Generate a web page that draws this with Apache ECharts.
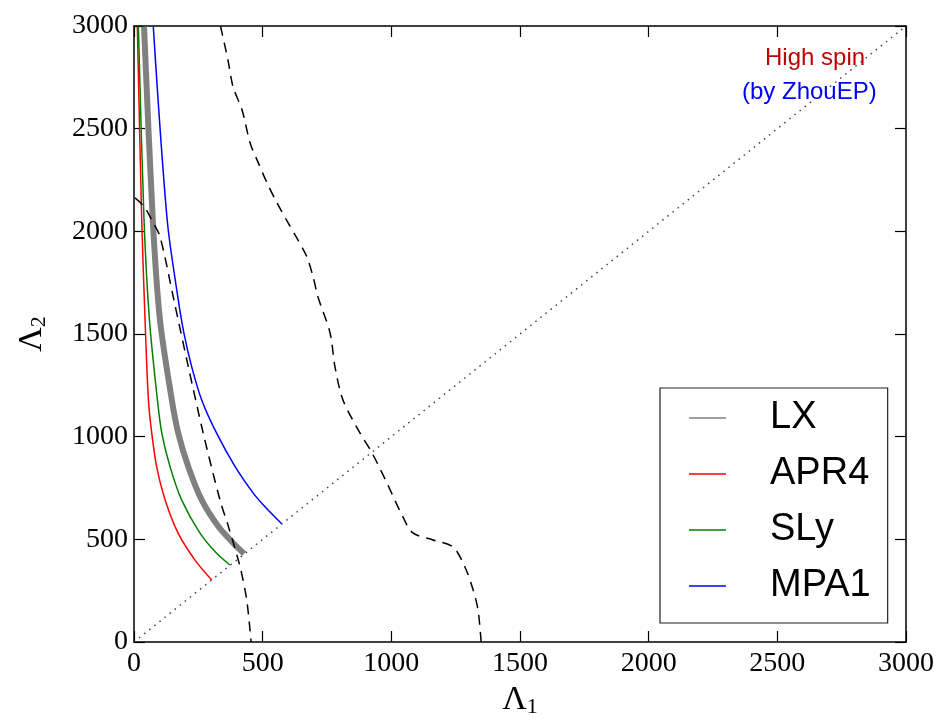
<!DOCTYPE html>
<html>
<head>
<meta charset="utf-8">
<script src="https://cdn.jsdelivr.net/npm/echarts@6/dist/echarts.min.js"></script>
<style>
  html, body { margin:0; padding:0; background:#fff; }
  #chart { width:941px; height:719px; }
</style>
</head>
<body>
<div id="chart"></div>
<script>
// tick labels
var ticks = [0, 500, 1000, 1500, 2000, 2500, 3000];

// [Lambda1, Lambda2]
var lx   = [[39,2997],[73,2055],[101,1568],[147,1179],[172,1017],[211,854],[263,692],[328,562],[386,481],[428,430]];
var apr4 = [[13,2997],[30,2055],[43,1568],[56,1179],[69,1017],[88,854],[121,692],[172,529],[237,399],[302,302]];
var sly  = [[17,2997],[39,2055],[60,1568],[91,1179],[108,1017],[140,854],[185,692],[257,529],[321,432],[373,375]];
var mpa1 = [[75,2997],[129,2055],[172,1666],[194,1504],[224,1341],[263,1179],[321,1017],[393,854],[464,724],[509,659],[574,576]];

var dashLeft  = [[4,2163],[40,2120],[69,2055],[101,1974],[155,1666],[211,1341],[269,1017],[334,692],[367,562],[412,367],[438,205],[455,0]];
var dashRight = [[336,3000],[365,2835],[385,2703],[420,2591],[451,2431],[478,2348],[517,2236],[556,2138],[599,2041],
                 [637,1958],[672,1875],[696,1778],[715,1680],[762,1505],[781,1340],[812,1179],[878,1018],[925,921],
                 [983,774],[1045,609],[1084,531],[1162,497],[1240,463],[1286,365],[1318,253],[1337,156],[1349,0]];
var diagonal = [[0,0],[3000,3000]];

(function() {
  var serif = '"Liberation Serif", "DejaVu Serif", serif';
  var sans = '"Liberation Sans", Arial, sans-serif';
  var axisCommon = {
    type:'value', min:0, max:3000, interval:500,
    axisLine:{onZero:false, lineStyle:{color:'#000', width:1.5}},
    axisTick:{inside:true, length:11, lineStyle:{color:'#000', width:1.2}},
    splitLine:{show:false}
  };
  var nameRich = {rich:{a:{fontFamily:serif, fontSize:34, color:'#000'},
                        s:{fontFamily:serif, fontSize:22, color:'#000', padding:[14,0,0,0]}}};
  function line(name, data, color, width, type, smooth) {
    return {name:name, type:'line', data:data, symbol:'none', smooth:smooth,
      lineStyle:{color:color, width:width, type:type}, itemStyle:{color:color},
      z: 2, silent:true};
  }
  var chart = echarts.init(document.getElementById('chart'), null, {renderer:'canvas'});
  chart.setOption({
    animation:false,
    backgroundColor:'#fff',
    grid:{left:134, right:35, top:26, bottom:77, outerBoundsMode:'none', containLabel:false},
    xAxis:[
      Object.assign({}, axisCommon, {position:'bottom',
        axisLabel:{color:'#000', fontFamily:serif, fontSize:28, margin:8,
          formatter:function(v){return String(v);}},
        name:'{a|Λ}{s|1}', nameLocation:'middle', nameGap:32, nameTextStyle:nameRich}),
      Object.assign({}, axisCommon, {position:'top', axisLabel:{show:false}})
    ],
    yAxis:[
      Object.assign({}, axisCommon, {position:'left',
        axisLabel:{color:'#000', fontFamily:serif, fontSize:28, margin:6,
          formatter:function(v){return String(v);}},
        name:'{a|Λ}{s|2}', nameLocation:'middle', nameGap:84, nameRotate:90, nameTextStyle:nameRich}),
      Object.assign({}, axisCommon, {position:'right', axisLabel:{show:false}})
    ],
    legend:{
      data:['LX','APR4','SLy','MPA1'],
      orient:'vertical', left:660, top:388,
      icon:'rect', itemWidth:37, itemHeight:1.5, itemGap:16,
      padding:[10,17,17,29],
      borderColor:'#222', borderWidth:1.2, backgroundColor:'#fff',
      textStyle:{fontFamily:sans, fontSize:38, color:'#000', lineHeight:40, padding:[0,0,0,39]},
      selectedMode:false
    },
    graphic:[
      {type:'text', left:765, top:46, style:{text:'High spin', fontFamily:sans, fontSize:24, fill:'#c00000'}},
      {type:'text', left:742, top:80, style:{text:'(by ZhouEP)', fontFamily:sans, fontSize:24, fill:'#0000ff'}}
    ],
    series:[
      line('diag', diagonal, '#444', 1.5, [1.5,5], false),
      line('LX', lx, '#808080', 6, 'solid', 0.3),
      line('APR4', apr4, '#ff0000', 1.5, 'solid', 0.3),
      line('SLy', sly, '#008000', 1.5, 'solid', 0.3),
      line('MPA1', mpa1, '#0000ff', 1.5, 'solid', 0.3),
      line('dl', dashLeft, '#000', 1.5, [10,7], 0.3),
      line('dr', dashRight, '#000', 1.5, [10,7], 0.3)
    ]
  });
  window.addEventListener('resize', function(){ chart.resize(); });
})();
</script>
</body>
</html>
